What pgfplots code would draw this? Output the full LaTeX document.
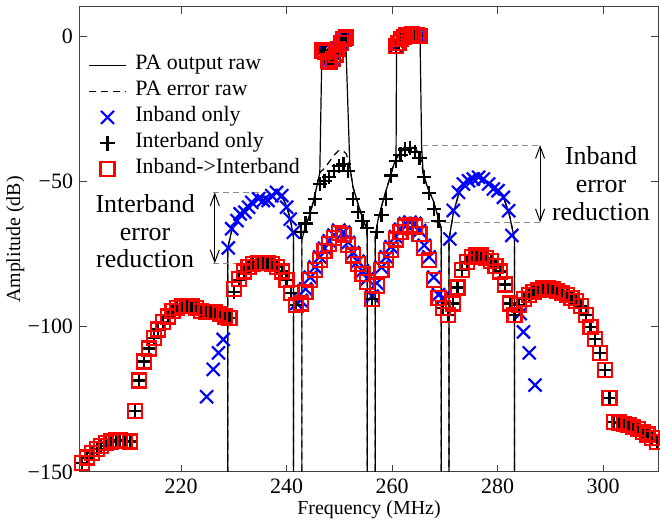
\documentclass[border=0pt]{standalone}
\usepackage{fontspec}
\setmainfont{Liberation Serif}
\usepackage{pgfplots}
\pgfplotsset{compat=1.18}
\usepackage{pgfplotstable}
\usetikzlibrary{arrows.meta}

% error spectrum: f, Inband->Interband (R), Interband only (P)
\pgfplotstableread{
f R P
201.3 -147 -147
202.2 -145 -145
203.1 -143.5 -143.5
204.0 -142 -142
204.9 -141 -141
205.8 -140 -140
206.7 -139.5 -139.5
207.6 -139 -139
208.5 -139 -139
209.4 -139.2 -139.2
210.3 -139.5 -139.5
211.2 -129 -129
212.1 -118.5 -118.5
213.0 -112 -112
213.9 -107.5 -107.5
214.8 -104 -104
215.7 -101 -101
216.6 -98.5 -98.5
217.5 -96.5 -96.5
218.4 -94.5 -94.5
219.3 -93.5 -93.5
220.2 -93 -93
221.1 -93 -93
222.0 -93 -93
222.9 -93.5 -93.5
223.8 -94.5 -94.5
224.7 -95 -95
225.6 -95 -95
226.5 -95 -95
227.4 -95.5 -95.5
228.3 -96.5 -96.5
229.2 -97 -97
230.1 -87 -88
231.0 -83.5 -84
231.9 -81 -81
232.8 -79.5 -79.5
233.7 -78.5 -78.5
234.6 -78 -78
235.5 -78 -78
236.4 -78 -78
237.3 -78.5 -78.5
238.2 -79.5 -79.5
239.1 -81 -81
240.0 -84 -84
240.9 -88.5 -88.5
241.8 -92.5 -92.5
242.7 -92 -67.5
243.6 -88 -64.5
244.5 -84 -61
245.4 -80.5 -56
246.3 -77 -51
247.2 -74 -49.8
248.1 -71.5 -48.5
249.0 -69.5 -46.5
249.9 -67.8 -44.8
250.8 -68.5 -44
251.7 -72 -46.5
252.6 -75.5 -56
253.5 -78.5 -60.5
254.4 -81.8 -63.7
255.3 -84.5 -66
256.2 -90.5 -90.5
257.1 -86 -67.5
258.0 -80.6 -61.5
258.9 -77 -56
259.8 -73.5 -48
260.7 -70 -43
261.6 -67.5 -40.8
262.5 -65.5 -39
263.4 -65 -38.5
264.3 -65.5 -39.8
265.2 -68 -42
266.1 -73 -48.5
267.0 -77 -54
267.9 -84 -59.5
268.8 -90 -63.5
269.7 -93.5 -93.5
270.6 -96 -96
271.5 -92 -92
272.4 -86.5 -86.5
273.3 -80.5 -80.5
274.2 -77.8 -77.8
275.1 -76 -76
276.0 -75.5 -75.5
276.9 -75.5 -75.5
277.8 -76.3 -76.3
278.7 -77.5 -77.5
279.6 -79 -79
280.5 -81 -81
281.4 -85.5 -85.5
282.3 -92 -92
283.2 -96 -96
284.1 -92.5 -92.5
285.0 -90.5 -90.5
285.9 -89 -89
286.8 -88 -88
287.7 -87.3 -87.3
288.6 -86.8 -86.8
289.5 -86.8 -86.8
290.4 -87.2 -87.2
291.3 -87.8 -87.8
292.2 -88.4 -88.4
293.1 -89 -89
294.0 -90 -90
294.9 -91.3 -91.3
295.8 -93 -93
296.7 -96 -96
297.6 -100 -100
298.5 -104.3 -104.3
299.4 -109 -109
300.3 -115 -115
301.2 -124.5 -124.5
302.1 -132.7 -132.7
303.0 -133 -133
303.9 -133.5 -133.5
304.8 -133.9 -133.9
305.7 -134.4 -134.4
306.6 -135.1 -135.1
307.5 -136.1 -136.1
308.4 -137.1 -137.1
309.3 -138.3 -138.3
310.2 -139.7 -139.7
}\errtab

% Inband only error
\pgfplotstableread{
f X
224.85 -124.1
226.1 -114.7
227.1 -109
228.0 -104.4
228.96 -72.9
229.6 -66.3
230.6 -63.5
231.2 -61.2
232.1 -60.6
232.8 -58.9
233.4 -57.2
234.7 -56
235.6 -56.6
236.5 -56.6
237.2 -54.9
238.1 -53.8
239.1 -54.9
240.0 -58.9
240.7 -63
241.3 -67.5
241.9 -92
242.7 -91
243.6 -87
244.5 -83
245.4 -79.5
246.3 -76
247.2 -73
248.1 -70.5
249.0 -68.5
249.9 -66.8
250.8 -67.5
251.7 -71
252.6 -74.5
253.5 -77.5
254.4 -80.8
255.3 -83.5
256.2 -89.5
257.1 -85
258.0 -79.6
258.9 -76
259.8 -72.5
260.7 -69
261.6 -66.5
262.5 -64.5
263.4 -64
264.3 -64.5
265.2 -67
266.1 -72
267.0 -76
267.9 -83
268.8 -89
269.7 -90
270.95 -69.8
271.6 -60
272.6 -53.8
273.5 -50.9
274.5 -49.8
275.4 -49.2
276.4 -48.6
277.3 -49.2
278.3 -50.9
279.2 -52.6
280.1 -53.2
281.1 -55.5
282.1 -60.1
282.7 -68.6
284.3 -95.5
284.9 -101.8
286.0 -109
287.1 -120.1
}\inbtab

% in-band output (same for all three methods)
\pgfplotstableread{
f y
246.8 -5
247.3 -5.5
247.8 -8.5
248.3 -9
248.8 -8
249.3 -6.5
249.8 -4.5
250.3 -2.5
250.8 -1
251.2 -0.5
260.7 -3.5
261.2 -2.5
261.7 -1
262.2 -0.3
262.7 0.3
263.2 0.5
263.7 0.6
264.2 0.5
264.7 0.3
265.2 0
}\bandtab

\newcommand\tickfont{\fontsize{11}{12}\selectfont}
\newcommand\notefont{\fontsize{13}{14}\selectfont}
\tikzset{note/.style={font=\notefont, anchor=base, inner sep=0pt}}

\begin{document}
\begin{tikzpicture}
\begin{axis}[
  scale only axis, width=289bp, height=232.5bp,
  xmin=200.85, xmax=310.4, ymin=-150, ymax=10,
  xtick={220,240,260,280,300}, xticklabels={220,240,260,280,300},
  ytick={-150,-100,-50,0}, yticklabels={−150,−100,−50,0},
  tick pos=both, xticklabel pos=lower, yticklabel pos=left,
  tick align=inside, major tick length=3.5bp,
  axis line style={line width=0.5bp, black!75},
  tick style={line width=0.5bp, black!75},
  ticklabel style={font=\tickfont},
  label style={font=\tickfont},
  xlabel={Frequency (MHz)}, ylabel={Amplitude (dB)},
  every axis x label/.style={at={(axis description cs:0.5,-0.081)}, anchor=center},
  every axis y label/.style={at={(axis description cs:-0.112,0.5)}, anchor=center, rotate=90},
  legend cell align=left,
  legend style={at={(axis description cs:0,1)}, anchor=north west, xshift=4bp, yshift=-22.5bp,
    draw=none, fill=none, font=\tickfont, inner sep=0pt,
    nodes={inner xsep=0pt, inner ysep=0pt, text height=8.5bp, text depth=4.5bp}},
]
\addlegendimage{legend image code/.code={\draw[black, line width=0.6bp] (0bp,0bp) -- (18.5bp,0bp); \path (23bp,0bp);}}
\addlegendentry{PA output raw}
\addlegendimage{legend image code/.code={\draw[black, line width=0.6bp, dash pattern=on 3.5bp off 2.5bp] (0bp,0bp) -- (18.5bp,0bp); \path (23bp,0bp);}}
\addlegendentry{PA error raw}
\addlegendimage{legend image code/.code={\draw[blue, line width=1.1bp, mark=x, mark size=4.6bp] plot coordinates {(9.25bp,0bp)}; \path (0bp,0bp) (23bp,0bp);}}
\addlegendentry{Inband only}
\addlegendimage{legend image code/.code={\draw[black, line width=1.1bp, mark=+, mark size=3.6bp] plot coordinates {(9.25bp,0bp)}; \path (0bp,0bp) (23bp,0bp);}}
\addlegendentry{Interband only}
\addlegendimage{legend image code/.code={\draw[red, line width=1.1bp, mark=square, mark size=3.5bp] plot coordinates {(9.25bp,0bp)}; \path (0bp,0bp) (23bp,0bp);}}
\addlegendentry{Inband->Interband}

% PA output raw
\addplot[black, line width=0.6bp, forget plot] coordinates {
(228.85,-200) (228.85,-73) (229.6,-67) (230.6,-63.5) (231.5,-61) (232.5,-59) (233.5,-57.3)
(234.7,-56) (236.0,-55.3) (237.2,-54.5) (238.1,-54) (239.1,-55) (240.0,-58.5) (240.7,-63)
(241.3,-69) (241.3,-200)
(242.9,-200) (242.9,-70) (243.5,-66) (244.3,-62) (245.0,-57.5) (245.7,-52) (246.3,-47)
(246.7,-5) (247.3,-5.5) (247.8,-8.5) (248.3,-9) (248.8,-8) (249.3,-6.5) (249.8,-4.5)
(250.3,-2.5) (250.8,-1) (251.2,-0.5) (252.0,-45) (252.6,-52) (253.5,-57.5) (254.3,-62)
(255.3,-67) (255.3,-200)
(256.8,-200) (256.8,-69) (257.3,-63.5) (258.3,-56.6) (259.3,-50.5) (260.2,-45) (260.75,-42)
(260.85,-3.5) (261.2,-2.5) (261.7,-1) (262.2,-0.3) (262.7,0.3) (263.2,0.5) (263.7,0.6)
(264.2,0.5) (264.7,0.3) (265.3,0) (265.6,-38) (265.9,-47.5) (266.8,-52.5) (267.8,-56.6)
(268.6,-61.5) (269.3,-66) (269.3,-200)
(270.8,-200) (270.8,-70) (271.6,-61) (272.6,-54.5) (273.5,-51.5) (274.5,-50) (275.5,-49.2)
(276.5,-48.8) (277.5,-49.3) (278.5,-50.5) (279.5,-52) (280.5,-54) (281.3,-56.5) (282.1,-60.5)
(282.7,-65.5) (283.2,-70) (283.2,-200)
};
% PA error raw
\addplot[black, line width=0.6bp, dash pattern=on 3.5bp off 2.5bp, forget plot] coordinates {
(228.85,-200) (228.85,-73) (229.6,-67) (230.6,-63.5) (231.5,-61) (232.5,-59) (233.5,-57.3)
(234.7,-56) (236.0,-55.3) (237.2,-54.5) (238.1,-54) (239.1,-55) (240.0,-58.5) (240.7,-63)
(241.3,-69) (241.3,-200)
(242.9,-200) (242.9,-70) (243.5,-66) (244.3,-62) (245.0,-57.5) (245.7,-52) (246.3,-47)
(247.2,-45.5) (248.2,-43) (249.0,-41) (249.8,-39.5) (250.6,-39.3) (251.3,-40.5) (251.9,-44)
(252.6,-52) (253.5,-57.5) (254.3,-62) (255.3,-67) (255.3,-200)
(256.8,-200) (256.8,-69) (257.3,-63.5) (258.3,-56.6) (259.3,-50.5) (260.2,-45) (260.9,-42)
(261.6,-40) (262.4,-38.8) (263.2,-38) (264.0,-38.3) (264.8,-39.5) (265.5,-42.5) (265.9,-47.5)
(266.8,-52.5) (267.8,-56.6) (268.6,-61.5) (269.3,-66) (269.3,-200)
(270.8,-200) (270.8,-70) (271.6,-61) (272.6,-54.5) (273.5,-51.5) (274.5,-50) (275.5,-49.2)
(276.5,-48.8) (277.5,-49.3) (278.5,-50.5) (279.5,-52) (280.5,-54) (281.3,-56.5) (282.1,-60.5)
(282.7,-65.5) (283.2,-70) (283.2,-200)
};

% Inband only
\addplot[only marks, blue, mark=x, mark size=4.6bp, line width=1.1bp, forget plot] table[x=f, y=X] {\inbtab};
\addplot[only marks, blue, mark=x, mark size=4.6bp, line width=1.1bp, forget plot] table[x=f, y=y] {\bandtab};
% Interband only
\addplot[only marks, black, mark=+, mark size=3.6bp, line width=1.1bp, forget plot] table[x=f, y=P] {\errtab};
\addplot[only marks, black, mark=+, mark size=3.6bp, line width=1.1bp, forget plot] table[x=f, y=y] {\bandtab};
% Inband->Interband
\addplot[only marks, red, mark=square, mark size=3.5bp, line width=1.1bp, forget plot] table[x=f, y=R] {\errtab};
\addplot[only marks, red, mark=square, mark size=3.5bp, line width=1.1bp, forget plot] table[x=f, y=y] {\bandtab};

% annotations
\draw[black!45, line width=0.5bp, dash pattern=on 3bp off 2bp] (axis cs:226.1,-53.8) -- (axis cs:238.3,-53.8);
\draw[black!45, line width=0.5bp, dash pattern=on 3bp off 2bp] (axis cs:226.1,-78.2) -- (axis cs:237.7,-78.2);
\draw[black, line width=0.5bp, {Straight Barb[length=6bp,width=4.5bp]}-{Straight Barb[length=6bp,width=4.5bp]}]
  (axis cs:226.4,-53.8) -- (axis cs:226.4,-78.2);
\node[note] at (axis cs:213.2,-60.6) {Interband};
\node[note] at (axis cs:213.2,-70.2) {error};
\node[note] at (axis cs:213.2,-79.8) {reduction};

\draw[black!45, line width=0.5bp, dash pattern=on 3bp off 2bp] (axis cs:265.6,-37.5) -- (axis cs:288.0,-37.5);
\draw[black!45, line width=0.5bp, dash pattern=on 3bp off 2bp] (axis cs:266.0,-64.1) -- (axis cs:288.0,-64.1);
\draw[black, line width=0.5bp, {Straight Barb[length=6bp,width=4.5bp]}-{Straight Barb[length=6bp,width=4.5bp]}]
  (axis cs:288.05,-37.5) -- (axis cs:288.05,-64.1);
\node[note] at (axis cs:299.6,-44.3) {Inband};
\node[note] at (axis cs:299.6,-53.9) {error};
\node[note] at (axis cs:299.6,-63.5) {reduction};
\end{axis}
\pgfresetboundingbox
\path[use as bounding box] (-40bp,-24.5bp) rectangle (290bp,236bp);
\end{tikzpicture}
\end{document}
